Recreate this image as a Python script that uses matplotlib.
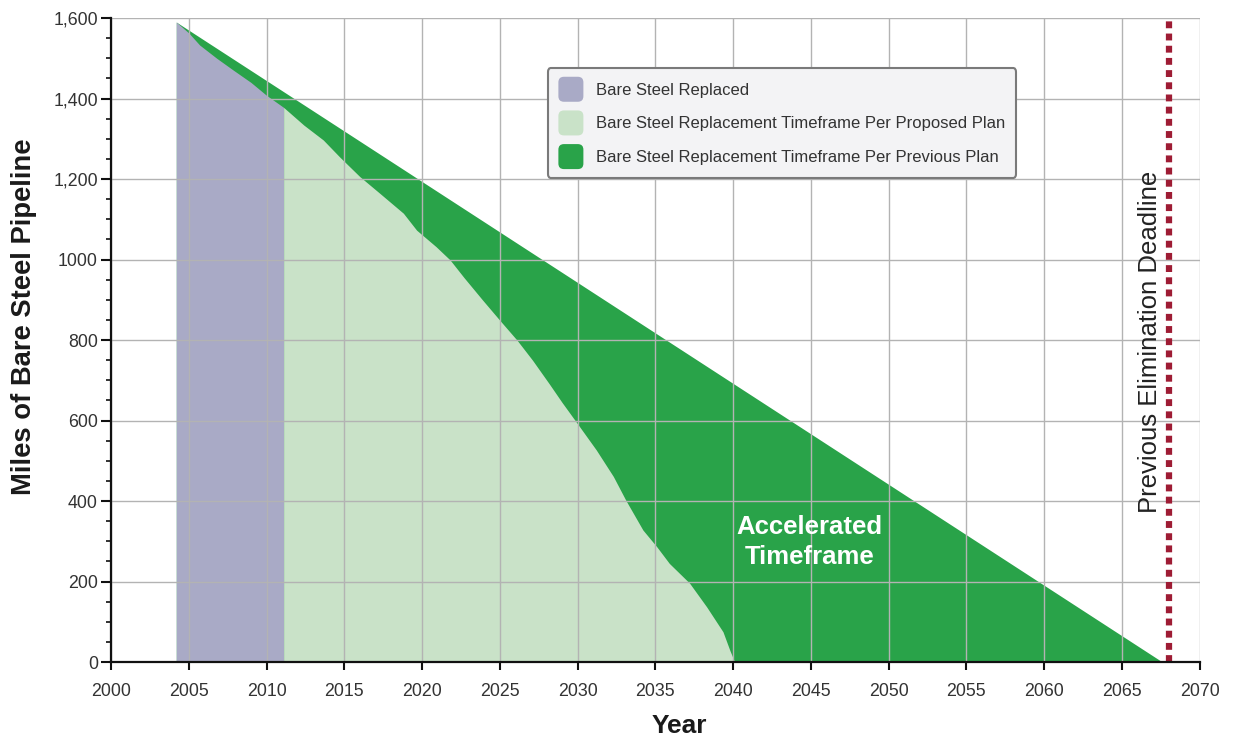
import matplotlib
matplotlib.use("Agg")
import matplotlib.pyplot as plt
from matplotlib.patches import Patch, FancyBboxPatch
from matplotlib.legend_handler import HandlerPatch
from matplotlib.ticker import MultipleLocator, FixedLocator, FixedFormatter

plt.rcParams['font.family'] = ['Liberation Sans', 'DejaVu Sans']

# ---- data ----
prev_years = [2004.2, 2067.6]
prev_miles = [1590, 0]

replaced_years = [2004.2, 2005.0, 2005.7, 2006.8, 2007.85, 2009.0, 2010.0, 2011.1]
replaced_miles = [1590, 1563, 1533, 1500, 1471, 1440, 1408, 1378]

proposed_years = [2011.1, 2012.4, 2013.65, 2014.7, 2016.0, 2017.3, 2018.8, 2019.65,
                  2020.9, 2021.8, 2022.7, 2023.9, 2025.0, 2026.1, 2027.1, 2028.2,
                  2029.0, 2029.9, 2031.2, 2032.3, 2033.1, 2034.2, 2035.1, 2035.9,
                  2037.2, 2038.3, 2039.35, 2039.8, 2040.1]
proposed_miles = [1378, 1334, 1297, 1255, 1206, 1164, 1115, 1073,
                  1032, 999, 955, 899, 849, 800, 750, 690,
                  645, 597, 527, 461, 402, 328, 286, 245,
                  196, 137, 75, 28, 0]

deadline_year = 2068

x_ticks = list(range(2000, 2071, 5))
y_ticks = [0, 200, 400, 600, 800, 1000, 1200, 1400, 1600]
y_tick_labels = ["0", "200", "400", "600", "800", "1000", "1,200", "1,400", "1,600"]

legend_labels = ["Bare Steel Replaced",
                 "Bare Steel Replacement Timeframe Per Proposed Plan",
                 "Bare Steel Replacement Timeframe Per Previous Plan"]

# ---- colours ----
c_gray = "#a9aac6"
c_light = "#c9e2c8"
c_dark = "#29a349"
c_red = "#9e1c34"

fig = plt.figure(figsize=(12.33, 7.42), dpi=100)
ax = fig.add_axes([0.090, 0.1078, 0.883, 0.8679])

ax.fill_between(prev_years, 0, prev_miles, color=c_dark, lw=0, zorder=1)
ax.fill_between(replaced_years, 0, replaced_miles, color=c_gray, lw=0, zorder=2)
ax.fill_between(proposed_years, 0, proposed_miles, color=c_light, lw=0, zorder=2)

ax.set_xlim(2000, 2070)
ax.set_ylim(0, 1600)

ax.xaxis.set_major_locator(FixedLocator(x_ticks))
ax.yaxis.set_major_locator(FixedLocator(y_ticks))
ax.yaxis.set_major_formatter(FixedFormatter(y_tick_labels))
ax.yaxis.set_minor_locator(MultipleLocator(50))

ax.grid(True, which='major', color="#b3b3b3", lw=1.0, zorder=3)
ax.set_axisbelow(False)

for s in ['top', 'right']:
    ax.spines[s].set_visible(False)
for s in ['left', 'bottom']:
    ax.spines[s].set_linewidth(1.6)
    ax.spines[s].set_color("#111111")
    ax.spines[s].set_zorder(6)

ax.tick_params(axis='both', which='major', direction='out', width=1.5,
               labelsize=12.8, labelcolor="#333333", color="#111111")
ax.tick_params(axis='x', which='major', length=6, pad=9)
ax.tick_params(axis='y', which='major', length=7, pad=2.5)
ax.tick_params(axis='y', which='minor', direction='out', length=3.6, width=1.2, color="#111111")

# deadline dotted line
ax.plot([deadline_year, deadline_year], [0, 1600], color=c_red, lw=4.5,
        linestyle=(0, (1.1, 0.85)), solid_capstyle='butt', dash_capstyle='butt',
        zorder=5, clip_on=False)

ax.text(2066.8, 795, "Previous Elimination Deadline", rotation=90, ha='center', va='center',
        fontsize=18.5, color="#222222", zorder=7)

ax.text(2044.9, 298, "Accelerated\nTimeframe", ha='center', va='center', fontsize=18.5,
        fontweight='bold', color='white', linespacing=1.35, zorder=7)

ax.set_ylabel("Miles of Bare Steel Pipeline", fontsize=19.7, fontweight='bold', color="#1a1a1a")
ax.yaxis.set_label_coords(-0.068, 0.536)
ax.set_xlabel("Year", fontsize=19, fontweight='bold', color="#1a1a1a")
ax.xaxis.set_label_coords(0.5216, -0.080)


def rounded_patch(legend, orig_handle, xdescent, ydescent, width, height, fontsize):
    side = width
    return FancyBboxPatch((-xdescent, -ydescent + (height - side) / 2.0), side, side,
                          boxstyle="round,pad=0,rounding_size=4")


handles = [Patch(facecolor=c_gray, edgecolor='none'),
           Patch(facecolor=c_light, edgecolor='none'),
           Patch(facecolor=c_dark, edgecolor='none')]
leg = ax.legend(handles, legend_labels, loc='upper left', bbox_to_anchor=(0.401, 0.922),
                borderaxespad=0, fontsize=12, handlelength=1.5, handleheight=1.5,
                handletextpad=0.75, labelspacing=0.8, borderpad=0.65, fancybox=True,
                framealpha=1, facecolor="#f3f3f5", edgecolor="#7a7a7a",
                handler_map={Patch: HandlerPatch(patch_func=rounded_patch)})
leg.get_frame().set_linewidth(1.5)
leg.set_zorder(8)
for t in leg.get_texts():
    t.set_color("#333333")

fig.savefig("out.png", dpi=100)
